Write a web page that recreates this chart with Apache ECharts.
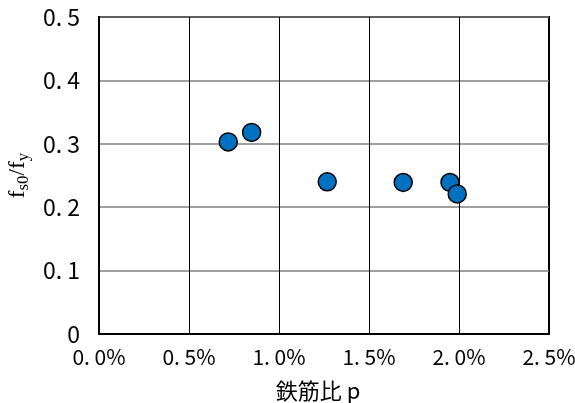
<!DOCTYPE html>
<html><head><meta charset="utf-8">
<script src="https://cdn.jsdelivr.net/npm/echarts@6/dist/echarts.min.js"></script>
<style>html,body{margin:0;padding:0;background:#fff}#c{width:575px;height:403px}</style>
</head><body><div id="c"></div>
<script>
const ratioP = [0.718, 0.848, 1.268, 1.690, 1.950, 1.990];
const fsRatio = [0.303, 0.318, 0.240, 0.239, 0.239, 0.221];
const xTicks = [0, 0.5, 1.0, 1.5, 2.0, 2.5];
const yTicks = [0, 0.1, 0.2, 0.3, 0.4, 0.5];

const data = ratioP.map((x, i) => [x, fsRatio[i]]);
const numFont = '"Noto Sans CJK JP", sans-serif';
const lblFont = '"Noto Sans CJK JP", sans-serif';
const chart = echarts.init(document.getElementById('c'));
chart.setOption({
  animation: false,
  grid: {left: 99, right: 26, top: 17, bottom: 69, show: true, borderColor: '#000', borderWidth: 2,
    backgroundColor: 'transparent', containLabel: false, outerBoundsMode: 'none'},
  xAxis: {
    type: 'value', min: 0, max: 2.5, interval: 0.5,
    axisLine: {show: true, lineStyle: {color: '#000', width: 2}},
    axisTick: {show: false},
    splitLine: {show: true, lineStyle: {color: '#000', width: 1}},
    axisLabel: {color: '#000', fontSize: 21, fontFamily: numFont, margin: 13,
      formatter: v => v.toFixed(1).replace('.', '. ') + '%'},
    name: '鉄筋比 p', nameLocation: 'middle', nameGap: 46,
    nameTextStyle: {color: '#000', fontSize: 22, fontFamily: lblFont, padding: [0, 12, 0, 0]}
  },
  yAxis: {
    type: 'value', min: 0, max: 0.5, interval: 0.1,
    axisLine: {show: true, lineStyle: {color: '#000', width: 2}},
    axisTick: {show: false},
    splitLine: {show: true, lineStyle: {color: '#808080', width: 1.5}},
    axisLabel: {color: '#000', fontSize: 23, fontFamily: numFont, margin: 19,
      formatter: v => v === 0 ? '0' : v.toFixed(1).replace('.', '. ')},
    name: '{f|f}{s|s0}{f|/f}{s|y}', nameLocation: 'middle', nameGap: 70, nameRotate: 90,
    nameTextStyle: {
      rich: {
        f: {fontFamily: '"Liberation Serif", serif', fontSize: 23, color: '#000', lineHeight: 24, verticalAlign: 'bottom'},
        s: {fontFamily: '"Liberation Serif", serif', fontSize: 17, color: '#000', lineHeight: 20, verticalAlign: 'bottom', padding: [0, 0, -3, 0]}
      }
    }
  },
  series: [{
    type: 'scatter', data: data, symbol: 'circle', symbolSize: 18,
    itemStyle: {color: '#0070C0', borderColor: '#000', borderWidth: 1.5, opacity: 1}
  }]
});
</script></body></html>
